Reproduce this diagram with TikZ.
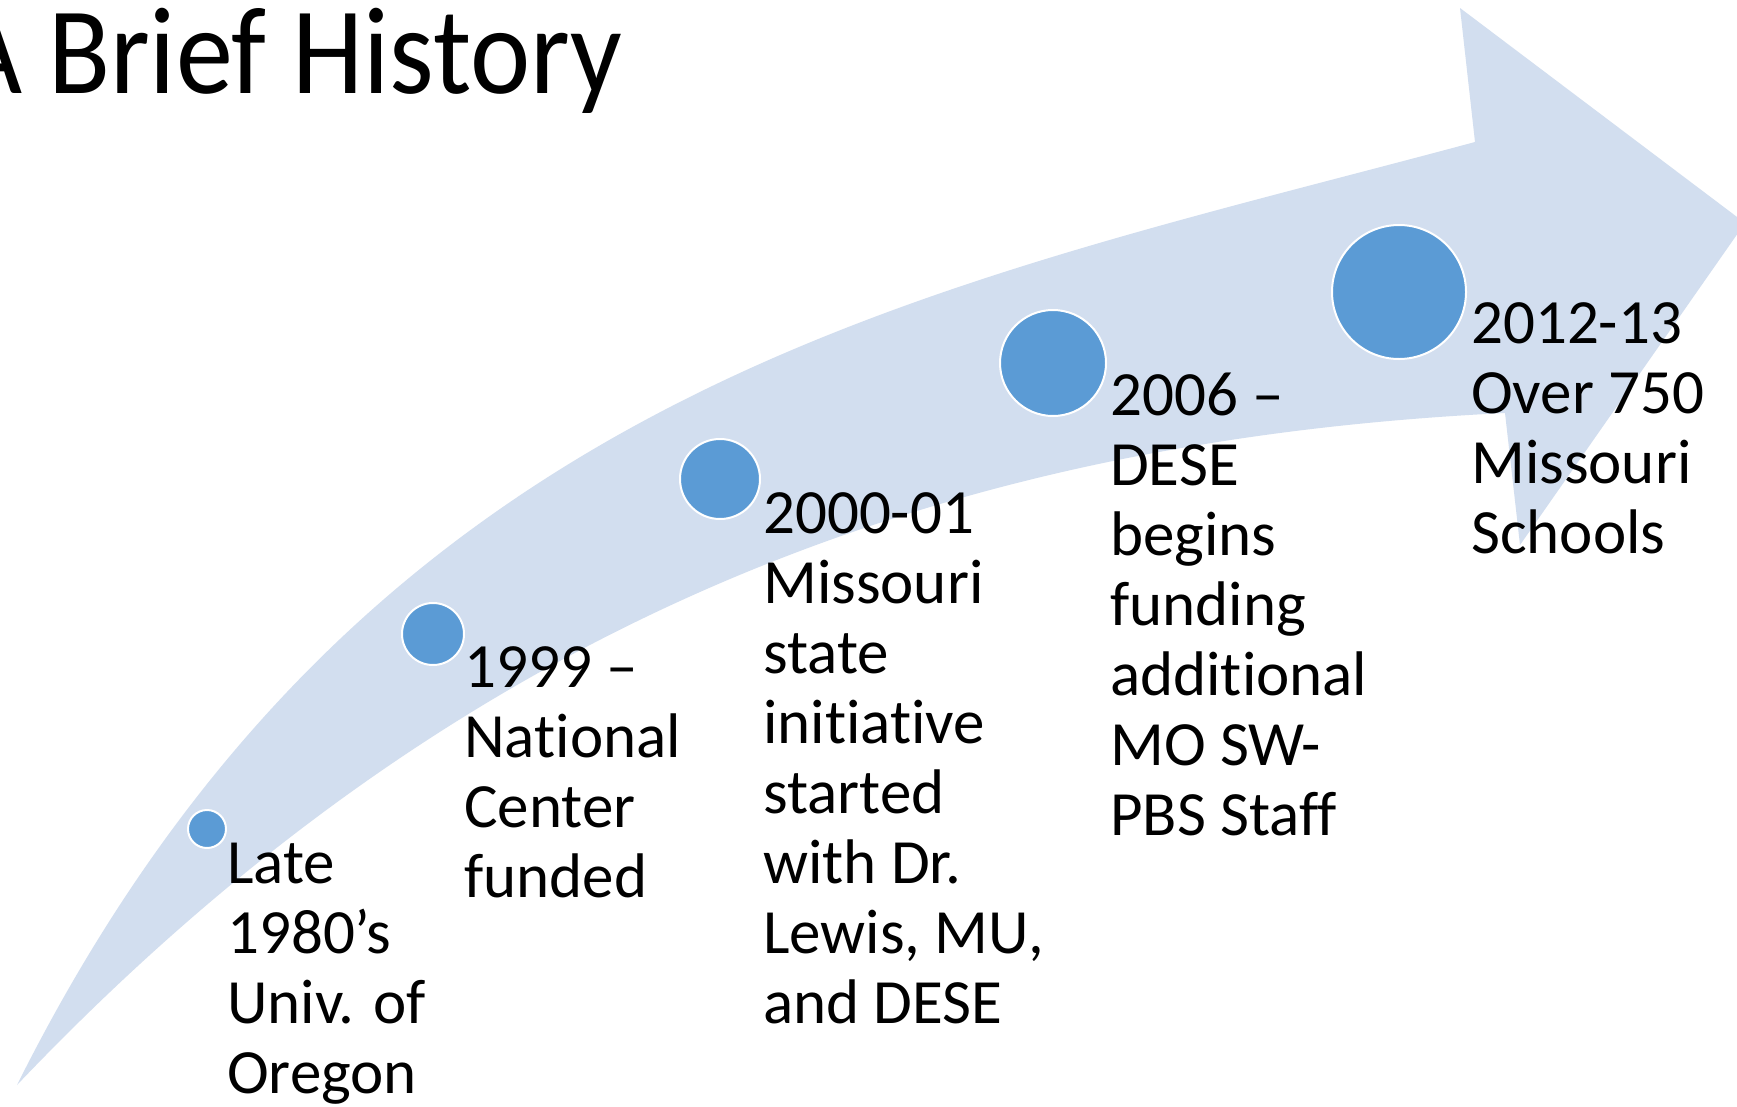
\documentclass[tikz,border=0pt]{standalone}
\usepackage{fontspec}
\setmainfont{Carlito}[Ligatures=NoCommon,Contextuals=NoAlternate,RawFeature={-liga;-clig;-dlig}]
\definecolor{band}{RGB}{210,222,239}
\definecolor{dot}{RGB}{91,155,213}
\begin{document}
\begin{tikzpicture}[x=1pt,y=-1pt,
  dotnode/.style={circle,fill=dot,draw=white,line width=2pt,inner sep=0pt,minimum size=#1},
  % anchored at the baseline of the last line; lines are 70pt apart
  lbl/.style={anchor=base west,inner sep=0pt,align=left,font=\fontsize{63}{70}\selectfont},
]
\useasboundingbox (0,0) rectangle (1737,1106);
\clip (0,0) rectangle (1737,1106);
\fill[white] (0,0) rectangle (1737,1106);

% curved arrow: tail point, two shaft edges, head
\coordinate (tail)   at (17,1085);
\coordinate (notchT) at (1475,142);
\coordinate (barbT)  at (1460,8);
\coordinate (tip)    at (1745,223);
\coordinate (barbB)  at (1520,545);
\coordinate (notchB) at (1505,413);
\fill[band] (tail) .. controls (367,385) and (925,290) .. (notchT)
  -- (barbT) -- (tip) -- (barbB) -- (notchB)
  .. controls (955,440) and (467,612) .. (tail) -- cycle;

% title
\node[anchor=base west,inner sep=0pt,font=\fontsize{124}{130}\selectfont] (title) at (-44,93)
  {\scalebox{0.92}[1]{A Brief History}};

% milestones
\node[dotnode=38]  (d1) at (207,829) {};
\node[dotnode=62]  (d2) at (433,634) {};
\node[dotnode=80]  (d3) at (720,479) {};
\node[dotnode=106] (d4) at (1053,363) {};
\node[dotnode=134] (d5) at (1399,292) {};

\node[lbl] (t1) at (227,1093) {Late\\1980’s\\Univ. of\\Oregon};
\node[lbl] (t2) at (464,897)  {1999 –\\National\\Center\\funded};
\node[lbl] (t3) at (763,1023) {2000-01\\Missouri\\state\\initiative\\started\\with Dr.\\Lewis, MU,\\and DESE};
\node[lbl] (t4) at (1110,835) {2006 –\\DESE\\begins\\funding\\additional\\MO SW-\\PBS Staff};
\node[lbl] (t5) at (1471,553) {2012-13\\Over 750\\Missouri\\Schools};
\end{tikzpicture}
\end{document}
